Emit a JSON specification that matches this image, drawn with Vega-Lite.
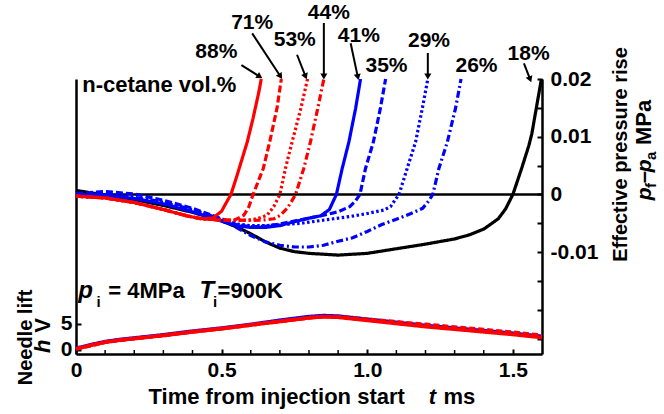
{
  "$schema": "https://vega.github.io/schema/vega-lite/v6.json",
  "width": 466,
  "height": 275,
  "autosize": {"type": "none"},
  "padding": {"left": 76, "top": 79, "right": 122, "bottom": 60},
  "config": {
    "view": {"stroke": null},
    "font": "Liberation Sans",
    "axis": {
      "labelFont": "Liberation Sans",
      "titleFont": "Liberation Sans",
      "labelFontWeight": "bold",
      "titleFontWeight": "bold",
      "labelColor": "black",
      "titleColor": "black",
      "domainColor": "black",
      "tickColor": "black",
      "domainWidth": 2.5,
      "tickWidth": 2,
      "grid": false,
      "labelFlush": false,
      "labelOverlap": false
    }
  },
  "datasets": {
    "pressure": [
      {"s": "18%", "t": 0, "P": 0.0007}, {"s": "18%", "t": 0.05, "P": 0.0003}, {"s": "18%", "t": 0.1, "P": -0.0001}, {"s": "18%", "t": 0.2, "P": -0.0009}, {"s": "18%", "t": 0.3, "P": -0.0019}, {"s": "18%", "t": 0.4, "P": -0.0031}, {"s": "18%", "t": 0.5, "P": -0.0046}, {"s": "18%", "t": 0.55, "P": -0.0056}, {"s": "18%", "t": 0.6, "P": -0.0068}, {"s": "18%", "t": 0.65, "P": -0.0082}, {"s": "18%", "t": 0.7, "P": -0.0093}, {"s": "18%", "t": 0.75, "P": -0.0099}, {"s": "18%", "t": 0.8, "P": -0.0102}, {"s": "18%", "t": 0.9, "P": -0.0105}, {"s": "18%", "t": 1.0, "P": -0.0102}, {"s": "18%", "t": 1.05, "P": -0.0098}, {"s": "18%", "t": 1.1, "P": -0.0094}, {"s": "18%", "t": 1.2, "P": -0.0086}, {"s": "18%", "t": 1.3, "P": -0.0077}, {"s": "18%", "t": 1.35, "P": -0.007}, {"s": "18%", "t": 1.4, "P": -0.006}, {"s": "18%", "t": 1.45, "P": -0.0042}, {"s": "18%", "t": 1.475, "P": -0.0025}, {"s": "18%", "t": 1.5, "P": 0.0}, {"s": "18%", "t": 1.53, "P": 0.0045}, {"s": "18%", "t": 1.555, "P": 0.0085}, {"s": "18%", "t": 1.565, "P": 0.0105}, {"s": "18%", "t": 1.598, "P": 0.02},
      {"s": "26%", "t": 0, "P": -0.0001}, {"s": "26%", "t": 0.1, "P": 0.0001}, {"s": "26%", "t": 0.2, "P": -0.0005}, {"s": "26%", "t": 0.3, "P": -0.0013}, {"s": "26%", "t": 0.4, "P": -0.0026}, {"s": "26%", "t": 0.5, "P": -0.0043}, {"s": "26%", "t": 0.55, "P": -0.0057}, {"s": "26%", "t": 0.6, "P": -0.0071}, {"s": "26%", "t": 0.65, "P": -0.0082}, {"s": "26%", "t": 0.7, "P": -0.0088}, {"s": "26%", "t": 0.75, "P": -0.0091}, {"s": "26%", "t": 0.8, "P": -0.0091}, {"s": "26%", "t": 0.85, "P": -0.0088}, {"s": "26%", "t": 0.9, "P": -0.0081}, {"s": "26%", "t": 0.95, "P": -0.0075}, {"s": "26%", "t": 1.0, "P": -0.0064}, {"s": "26%", "t": 1.05, "P": -0.0052}, {"s": "26%", "t": 1.1, "P": -0.0043}, {"s": "26%", "t": 1.15, "P": -0.0033}, {"s": "26%", "t": 1.19, "P": -0.0024}, {"s": "26%", "t": 1.21, "P": -0.0012}, {"s": "26%", "t": 1.225, "P": 0.0}, {"s": "26%", "t": 1.246, "P": 0.0045}, {"s": "26%", "t": 1.275, "P": 0.0091}, {"s": "26%", "t": 1.303, "P": 0.0149}, {"s": "26%", "t": 1.322, "P": 0.02},
      {"s": "29%", "t": 0, "P": -0.0002}, {"s": "29%", "t": 0.1, "P": 0.0}, {"s": "29%", "t": 0.2, "P": -0.0006}, {"s": "29%", "t": 0.3, "P": -0.0014}, {"s": "29%", "t": 0.4, "P": -0.0027}, {"s": "29%", "t": 0.5, "P": -0.0044}, {"s": "29%", "t": 0.55, "P": -0.0051}, {"s": "29%", "t": 0.6, "P": -0.0054}, {"s": "29%", "t": 0.65, "P": -0.0054}, {"s": "29%", "t": 0.713, "P": -0.0052}, {"s": "29%", "t": 0.771, "P": -0.005}, {"s": "29%", "t": 0.828, "P": -0.0046}, {"s": "29%", "t": 0.885, "P": -0.0042}, {"s": "29%", "t": 0.943, "P": -0.0038}, {"s": "29%", "t": 1.0, "P": -0.0033}, {"s": "29%", "t": 1.057, "P": -0.0027}, {"s": "29%", "t": 1.08, "P": -0.0021}, {"s": "29%", "t": 1.095, "P": -0.001}, {"s": "29%", "t": 1.109, "P": 0.0}, {"s": "29%", "t": 1.137, "P": 0.0045}, {"s": "29%", "t": 1.166, "P": 0.0091}, {"s": "29%", "t": 1.189, "P": 0.0149}, {"s": "29%", "t": 1.208, "P": 0.02},
      {"s": "35%", "t": 0, "P": 0.0002}, {"s": "35%", "t": 0.1, "P": 0.0005}, {"s": "35%", "t": 0.2, "P": 0.0001}, {"s": "35%", "t": 0.3, "P": -0.001}, {"s": "35%", "t": 0.4, "P": -0.0024}, {"s": "35%", "t": 0.5, "P": -0.0042}, {"s": "35%", "t": 0.55, "P": -0.0052}, {"s": "35%", "t": 0.6, "P": -0.0056}, {"s": "35%", "t": 0.65, "P": -0.0055}, {"s": "35%", "t": 0.7, "P": -0.0051}, {"s": "35%", "t": 0.75, "P": -0.0046}, {"s": "35%", "t": 0.8, "P": -0.0041}, {"s": "35%", "t": 0.85, "P": -0.0036}, {"s": "35%", "t": 0.9, "P": -0.003}, {"s": "35%", "t": 0.94, "P": -0.0021}, {"s": "35%", "t": 0.96, "P": -0.0011}, {"s": "35%", "t": 0.975, "P": 0.0}, {"s": "35%", "t": 0.994, "P": 0.0045}, {"s": "35%", "t": 1.021, "P": 0.0091}, {"s": "35%", "t": 1.045, "P": 0.0149}, {"s": "35%", "t": 1.063, "P": 0.02},
      {"s": "41%", "t": 0, "P": -0.0002}, {"s": "41%", "t": 0.1, "P": -0.0001}, {"s": "41%", "t": 0.2, "P": -0.0007}, {"s": "41%", "t": 0.3, "P": -0.0016}, {"s": "41%", "t": 0.4, "P": -0.003}, {"s": "41%", "t": 0.5, "P": -0.0046}, {"s": "41%", "t": 0.55, "P": -0.0054}, {"s": "41%", "t": 0.6, "P": -0.0057}, {"s": "41%", "t": 0.65, "P": -0.0057}, {"s": "41%", "t": 0.7, "P": -0.0054}, {"s": "41%", "t": 0.75, "P": -0.0047}, {"s": "41%", "t": 0.8, "P": -0.0041}, {"s": "41%", "t": 0.84, "P": -0.0037}, {"s": "41%", "t": 0.87, "P": -0.0026}, {"s": "41%", "t": 0.894, "P": 0.0}, {"s": "41%", "t": 0.914, "P": 0.0045}, {"s": "41%", "t": 0.937, "P": 0.0091}, {"s": "41%", "t": 0.96, "P": 0.0149}, {"s": "41%", "t": 0.977, "P": 0.02},
      {"s": "44%", "t": 0, "P": -0.0003}, {"s": "44%", "t": 0.1, "P": -0.0006}, {"s": "44%", "t": 0.2, "P": -0.0014}, {"s": "44%", "t": 0.3, "P": -0.0026}, {"s": "44%", "t": 0.38, "P": -0.0037}, {"s": "44%", "t": 0.43, "P": -0.0042}, {"s": "44%", "t": 0.5, "P": -0.0044}, {"s": "44%", "t": 0.6, "P": -0.0045}, {"s": "44%", "t": 0.65, "P": -0.0044}, {"s": "44%", "t": 0.68, "P": -0.0042}, {"s": "44%", "t": 0.702, "P": -0.0036}, {"s": "44%", "t": 0.725, "P": -0.0024}, {"s": "44%", "t": 0.74, "P": -0.0012}, {"s": "44%", "t": 0.754, "P": 0.0}, {"s": "44%", "t": 0.782, "P": 0.0045}, {"s": "44%", "t": 0.805, "P": 0.0091}, {"s": "44%", "t": 0.83, "P": 0.0149}, {"s": "44%", "t": 0.851, "P": 0.02},
      {"s": "53%", "t": 0, "P": -0.0003}, {"s": "53%", "t": 0.1, "P": -0.0006}, {"s": "53%", "t": 0.2, "P": -0.0014}, {"s": "53%", "t": 0.3, "P": -0.0026}, {"s": "53%", "t": 0.38, "P": -0.0037}, {"s": "53%", "t": 0.43, "P": -0.0042}, {"s": "53%", "t": 0.5, "P": -0.0044}, {"s": "53%", "t": 0.55, "P": -0.0045}, {"s": "53%", "t": 0.6, "P": -0.0044}, {"s": "53%", "t": 0.622, "P": -0.0042}, {"s": "53%", "t": 0.656, "P": -0.0036}, {"s": "53%", "t": 0.679, "P": -0.0021}, {"s": "53%", "t": 0.69, "P": -0.001}, {"s": "53%", "t": 0.7, "P": 0.0}, {"s": "53%", "t": 0.719, "P": 0.0045}, {"s": "53%", "t": 0.742, "P": 0.0091}, {"s": "53%", "t": 0.772, "P": 0.0149}, {"s": "53%", "t": 0.795, "P": 0.02},
      {"s": "71%", "t": 0, "P": -0.0003}, {"s": "71%", "t": 0.1, "P": -0.0006}, {"s": "71%", "t": 0.2, "P": -0.0014}, {"s": "71%", "t": 0.3, "P": -0.0026}, {"s": "71%", "t": 0.38, "P": -0.0037}, {"s": "71%", "t": 0.43, "P": -0.0042}, {"s": "71%", "t": 0.5, "P": -0.0045}, {"s": "71%", "t": 0.542, "P": -0.0045}, {"s": "71%", "t": 0.576, "P": -0.0036}, {"s": "71%", "t": 0.593, "P": -0.0022}, {"s": "71%", "t": 0.608, "P": 0.0}, {"s": "71%", "t": 0.643, "P": 0.0045}, {"s": "71%", "t": 0.665, "P": 0.0091}, {"s": "71%", "t": 0.69, "P": 0.0149}, {"s": "71%", "t": 0.705, "P": 0.02},
      {"s": "88%", "t": 0, "P": -0.0003}, {"s": "88%", "t": 0.1, "P": -0.0006}, {"s": "88%", "t": 0.2, "P": -0.0014}, {"s": "88%", "t": 0.3, "P": -0.0026}, {"s": "88%", "t": 0.38, "P": -0.0037}, {"s": "88%", "t": 0.43, "P": -0.0042}, {"s": "88%", "t": 0.47, "P": -0.0041}, {"s": "88%", "t": 0.5, "P": -0.0029}, {"s": "88%", "t": 0.515, "P": -0.0015}, {"s": "88%", "t": 0.532, "P": 0.0}, {"s": "88%", "t": 0.553, "P": 0.0033}, {"s": "88%", "t": 0.588, "P": 0.0091}, {"s": "88%", "t": 0.608, "P": 0.0132}, {"s": "88%", "t": 0.628, "P": 0.0178}, {"s": "88%", "t": 0.636, "P": 0.02}
    ],
    "lift": [
      {"s": "B", "t": 0, "h": 0.3}, {"s": "B", "t": 0.05, "h": 1.0}, {"s": "B", "t": 0.1, "h": 1.6}, {"s": "B", "t": 0.15, "h": 2.0}, {"s": "B", "t": 0.2, "h": 2.3}, {"s": "B", "t": 0.3, "h": 2.9}, {"s": "B", "t": 0.4, "h": 3.6}, {"s": "B", "t": 0.5, "h": 4.2}, {"s": "B", "t": 0.6, "h": 4.9}, {"s": "B", "t": 0.7, "h": 5.7}, {"s": "B", "t": 0.8, "h": 6.4}, {"s": "B", "t": 0.85, "h": 6.6}, {"s": "B", "t": 0.9, "h": 6.5}, {"s": "B", "t": 1.0, "h": 5.9}, {"s": "B", "t": 1.1, "h": 5.3}, {"s": "B", "t": 1.2, "h": 4.7}, {"s": "B", "t": 1.3, "h": 4.2}, {"s": "B", "t": 1.4, "h": 3.7}, {"s": "B", "t": 1.5, "h": 3.2}, {"s": "B", "t": 1.6, "h": 2.6},
      {"s": "R2", "t": 0, "h": 0.2}, {"s": "R2", "t": 0.1, "h": 1.5}, {"s": "R2", "t": 0.2, "h": 2.2}, {"s": "R2", "t": 0.3, "h": 2.8}, {"s": "R2", "t": 0.4, "h": 3.5}, {"s": "R2", "t": 0.5, "h": 4.1}, {"s": "R2", "t": 0.6, "h": 4.8}, {"s": "R2", "t": 0.7, "h": 5.5}, {"s": "R2", "t": 0.8, "h": 6.2}, {"s": "R2", "t": 0.85, "h": 6.4}, {"s": "R2", "t": 0.9, "h": 6.4}, {"s": "R2", "t": 1.0, "h": 5.9}, {"s": "R2", "t": 1.1, "h": 5.4}, {"s": "R2", "t": 1.2, "h": 4.9}, {"s": "R2", "t": 1.3, "h": 4.4}, {"s": "R2", "t": 1.4, "h": 3.9}, {"s": "R2", "t": 1.5, "h": 3.4}, {"s": "R2", "t": 1.6, "h": 2.8},
      {"s": "R1", "t": 0, "h": 0.2}, {"s": "R1", "t": 0.05, "h": 0.9}, {"s": "R1", "t": 0.1, "h": 1.5}, {"s": "R1", "t": 0.15, "h": 1.9}, {"s": "R1", "t": 0.2, "h": 2.2}, {"s": "R1", "t": 0.3, "h": 2.8}, {"s": "R1", "t": 0.4, "h": 3.5}, {"s": "R1", "t": 0.5, "h": 4.1}, {"s": "R1", "t": 0.6, "h": 4.8}, {"s": "R1", "t": 0.7, "h": 5.5}, {"s": "R1", "t": 0.8, "h": 6.2}, {"s": "R1", "t": 0.85, "h": 6.4}, {"s": "R1", "t": 0.9, "h": 6.3}, {"s": "R1", "t": 1.0, "h": 5.7}, {"s": "R1", "t": 1.1, "h": 5.1}, {"s": "R1", "t": 1.2, "h": 4.5}, {"s": "R1", "t": 1.3, "h": 4.0}, {"s": "R1", "t": 1.4, "h": 3.5}, {"s": "R1", "t": 1.5, "h": 3.0}, {"s": "R1", "t": 1.6, "h": 2.4}
    ],
    "minor": [
      {"t": 0.1}, {"t": 0.2}, {"t": 0.3}, {"t": 0.4}, {"t": 0.6}, {"t": 0.7}, {"t": 0.8}, {"t": 0.9}, {"t": 1.1}, {"t": 1.2}, {"t": 1.3}, {"t": 1.4}
    ],
    "labels": [
      {"label": "88%", "t": 0.482, "P": 0.0247},
      {"label": "71%", "t": 0.605, "P": 0.0297},
      {"label": "53%", "t": 0.751, "P": 0.0268},
      {"label": "44%", "t": 0.868, "P": 0.0315},
      {"label": "41%", "t": 0.971, "P": 0.0275},
      {"label": "35%", "t": 1.066, "P": 0.0222},
      {"label": "29%", "t": 1.212, "P": 0.0266},
      {"label": "26%", "t": 1.375, "P": 0.0222},
      {"label": "18%", "t": 1.554, "P": 0.0243}
    ],
    "arrows": [
      {"t1": 0.568, "P1": 0.0224, "t2": 0.628, "P2": 0.0205},
      {"t1": 0.605, "P1": 0.0279, "t2": 0.7, "P2": 0.0206},
      {"t1": 0.759, "P1": 0.0242, "t2": 0.787, "P2": 0.0206},
      {"t1": 0.851, "P1": 0.0297, "t2": 0.851, "P2": 0.0206},
      {"t1": 0.943, "P1": 0.0262, "t2": 0.967, "P2": 0.0205},
      {"t1": 1.208, "P1": 0.0245, "t2": 1.208, "P2": 0.0206},
      {"t1": 1.538, "P1": 0.0227, "t2": 1.558, "P2": 0.0201}
    ]
  },
  "layer": [
    {
      "data": {"name": "lift"},
      "mark": {"type": "line", "strokeWidth": 3.8, "strokeCap": "butt"},
      "encoding": {
        "x": {
          "field": "t", "type": "quantitative",
          "scale": {"domain": [0, 1.6], "nice": false, "zero": false},
          "axis": {
            "values": [0, 0.5, 1.0, 1.5],
            "labelExpr": "datum.value == 0 ? '0' : format(datum.value, '.1f')",
            "labelOverlap": false,
            "labelFlush": false,
            "tickSize": -5,
            "labelPadding": 10,
            "labelFontSize": 21,
            "title": null
          }
        },
        "y": {
          "field": "h", "type": "quantitative",
          "scale": {"domain": [-0.77, 52.1], "nice": false, "zero": false},
          "axis": {
            "orient": "left",
            "values": [0, 5],
            "labelOverlap": false,
            "tickSize": -5,
            "labelPadding": 9,
            "labelFontSize": 21,
            "title": "Needle lift",
            "titleFontSize": 20,
            "titleAngle": 270,
            "titleX": -51,
            "titleY": 258,
            "titleBaseline": "middle",
            "titleAlign": "center"
          }
        },
        "color": {"field": "s", "type": "nominal", "scale": {"domain": ["B", "R2", "R1"], "range": ["#0000ff", "#ff0000", "#ff0000"]}, "legend": null},
        "strokeDash": {"field": "s", "type": "nominal", "scale": {"domain": ["B", "R2", "R1"], "range": [[1, 0], [6, 3], [1, 0]]}, "legend": null}
      }
    },
    {
      "data": {"name": "minor"},
      "mark": {"type": "rule", "color": "black", "strokeWidth": 1.5},
      "encoding": {
        "x": {"field": "t", "type": "quantitative", "scale": {"domain": [0, 1.6], "nice": false, "zero": false}},
        "y": {"datum": -0.77, "type": "quantitative", "scale": {"domain": [-0.77, 52.1], "nice": false, "zero": false}, "axis": null},
        "y2": {"datum": 0}
      }
    },
    {
      "data": {"values": [{"text": "Time from injection start", "t": 0.249, "h": -10.4}, {"text": "ms", "t": 1.262, "h": -10.4}, {"text": "V", "t": -0.0883, "h": 3.3, "rot": 270}]},
      "mark": {"type": "text", "font": "Liberation Sans", "fontWeight": "bold", "fontSize": 22, "color": "black", "align": "left", "baseline": "alphabetic"},
      "encoding": {
        "x": {"field": "t", "type": "quantitative", "scale": {"domain": [0, 1.6], "nice": false, "zero": false}},
        "y": {"field": "h", "type": "quantitative", "scale": {"domain": [-0.77, 52.1], "nice": false, "zero": false}, "axis": null},
        "text": {"field": "text"},
        "angle": {"field": "rot", "type": "quantitative", "scale": null}
      }
    },
    {
      "data": {"values": [{"text": "t", "t": 1.211, "h": -10.4}, {"text": "h", "t": -0.0883, "h": -0.58, "rot": 270}]},
      "mark": {"type": "text", "font": "Liberation Sans", "fontWeight": "bold", "fontStyle": "italic", "fontSize": 22, "color": "black", "align": "left", "baseline": "alphabetic"},
      "encoding": {
        "x": {"field": "t", "type": "quantitative", "scale": {"domain": [0, 1.6], "nice": false, "zero": false}},
        "y": {"field": "h", "type": "quantitative", "scale": {"domain": [-0.77, 52.1], "nice": false, "zero": false}, "axis": null},
        "text": {"field": "text"},
        "angle": {"field": "rot", "type": "quantitative", "scale": null}
      }
    },
    {
      "data": {"values": [{"P": 0}]},
      "mark": {"type": "rule", "color": "black", "strokeWidth": 2.5},
      "encoding": {
        "y": {"field": "P", "type": "quantitative", "scale": {"domain": [-0.02763, 0.02], "nice": false, "zero": false}, "axis": null}
      }
    },
    {
      "data": {"name": "pressure"},
      "mark": {"type": "line", "strokeWidth": 3.2, "strokeCap": "butt"},
      "encoding": {
        "x": {"field": "t", "type": "quantitative", "scale": {"domain": [0, 1.6], "nice": false, "zero": false}},
        "y": {
          "field": "P", "type": "quantitative",
          "scale": {"domain": [-0.02763, 0.02], "nice": false, "zero": false},
          "axis": {
            "orient": "right",
            "values": [0.02, 0.015, 0.01, 0.005, 0, -0.005, -0.01, -0.015, -0.02, -0.025],
            "labelExpr": "(abs(datum.value*100 - round(datum.value*100)) < 0.001 && datum.value > -0.015) ? (datum.value == 0 ? '0' : (datum.value < 0 ? '-' + format(-datum.value, '.2f') : format(datum.value, '.2f'))) : ''",
            "labelOverlap": false,
            "tickSize": -5,
            "labelPadding": 13,
            "labelFontSize": 21,
            "title": "Effective pressure rise",
            "titleFontSize": 20,
            "titleAngle": 270,
            "titleX": 78,
            "titleY": 75,
            "titleBaseline": "middle",
            "titleAlign": "center"
          }
        },
        "color": {"field": "s", "type": "nominal", "scale": {"domain": ["18%", "26%", "29%", "35%", "41%", "44%", "53%", "71%", "88%"], "range": ["#000000", "#0000ff", "#0000ff", "#0000ff", "#0000ff", "#ff0000", "#ff0000", "#ff0000", "#ff0000"]}, "legend": null},
        "strokeDash": {"field": "s", "type": "nominal", "scale": {"domain": ["18%", "26%", "29%", "35%", "41%", "44%", "53%", "71%", "88%"], "range": [[1, 0], [7, 3, 2, 3], [2.5, 2.5], [7, 3], [1, 0], [7, 3, 2, 3], [2.5, 2.5], [7, 3], [1, 0]]}, "legend": null}
      }
    },
    {
      "data": {"name": "labels"},
      "mark": {"type": "text", "font": "Liberation Sans", "fontWeight": "bold", "fontSize": 21, "color": "black", "align": "center", "baseline": "middle"},
      "encoding": {
        "x": {"field": "t", "type": "quantitative", "scale": {"domain": [0, 1.6], "nice": false, "zero": false}},
        "y": {"field": "P", "type": "quantitative", "scale": {"domain": [-0.02763, 0.02], "nice": false, "zero": false}, "axis": null},
        "text": {"field": "label"}
      }
    },
    {
      "data": {"name": "arrows"},
      "mark": {"type": "rule", "color": "black", "strokeWidth": 2},
      "encoding": {
        "x": {"field": "t1", "type": "quantitative", "scale": {"domain": [0, 1.6], "nice": false, "zero": false}},
        "y": {"field": "P1", "type": "quantitative", "scale": {"domain": [-0.02763, 0.02], "nice": false, "zero": false}, "axis": null},
        "x2": {"field": "t2"},
        "y2": {"field": "P2"}
      }
    },
    {
      "data": {"name": "arrows"},
      "transform": [{"calculate": "atan2((datum.t2 - datum.t1) * 291, (datum.P2 - datum.P1) * 5767) * 180 / PI", "as": "ang"}],
      "mark": {"type": "point", "shape": "triangle", "filled": true, "color": "black", "opacity": 1, "size": 50},
      "encoding": {
        "x": {"field": "t2", "type": "quantitative", "scale": {"domain": [0, 1.6], "nice": false, "zero": false}},
        "y": {"field": "P2", "type": "quantitative", "scale": {"domain": [-0.02763, 0.02], "nice": false, "zero": false}, "axis": null},
        "angle": {"field": "ang", "type": "quantitative", "scale": null}
      }
    },
    {
      "data": {"values": [{"text": "n-cetane vol.%", "t": 0.0216, "P": 0.0177}, {"text": "= 4MPa", "t": 0.111, "P": -0.018}, {"text": "=900K", "t": 0.486, "P": -0.018}, {"text": "–", "t": 1.9735, "P": 0.00196, "rot": 270}, {"text": "MPa", "t": 1.9735, "P": 0.00855, "rot": 270}]},
      "mark": {"type": "text", "font": "Liberation Sans", "fontWeight": "bold", "fontSize": 22, "color": "black", "align": "left", "baseline": "alphabetic"},
      "encoding": {
        "x": {"field": "t", "type": "quantitative", "scale": {"domain": [0, 1.6], "nice": false, "zero": false}},
        "y": {"field": "P", "type": "quantitative", "scale": {"domain": [-0.02763, 0.02], "nice": false, "zero": false}, "axis": null},
        "text": {"field": "text"},
        "angle": {"field": "rot", "type": "quantitative", "scale": null}
      }
    },
    {
      "data": {"values": [{"text": "p", "t": 0.008, "P": -0.018}, {"text": "T", "t": 0.424, "P": -0.018}]},
      "mark": {"type": "text", "font": "Liberation Sans", "fontWeight": "bold", "fontStyle": "italic", "fontSize": 24, "color": "black", "align": "left", "baseline": "alphabetic"},
      "encoding": {
        "x": {"field": "t", "type": "quantitative", "scale": {"domain": [0, 1.6], "nice": false, "zero": false}},
        "y": {"field": "P", "type": "quantitative", "scale": {"domain": [-0.02763, 0.02], "nice": false, "zero": false}, "axis": null},
        "text": {"field": "text"}
      }
    },
    {
      "data": {"values": [{"text": "p", "t": 1.9735, "P": -0.00099, "rot": 270}, {"text": "p", "t": 1.9735, "P": 0.00387, "rot": 270}]},
      "mark": {"type": "text", "font": "Liberation Sans", "fontWeight": "bold", "fontStyle": "italic", "fontSize": 21, "color": "black", "align": "left", "baseline": "alphabetic"},
      "encoding": {
        "x": {"field": "t", "type": "quantitative", "scale": {"domain": [0, 1.6], "nice": false, "zero": false}},
        "y": {"field": "P", "type": "quantitative", "scale": {"domain": [-0.02763, 0.02], "nice": false, "zero": false}, "axis": null},
        "text": {"field": "text"},
        "angle": {"field": "rot", "type": "quantitative", "scale": null}
      }
    },
    {
      "data": {"values": [{"text": "i", "t": 0.07, "P": -0.0195}, {"text": "i", "t": 0.47, "P": -0.0195}, {"text": "f", "t": 1.991, "P": 0.00113, "rot": 270}, {"text": "a", "t": 1.991, "P": 0.00598, "rot": 270}]},
      "mark": {"type": "text", "font": "Liberation Sans", "fontWeight": "bold", "fontSize": 15, "color": "black", "align": "left", "baseline": "alphabetic"},
      "encoding": {
        "x": {"field": "t", "type": "quantitative", "scale": {"domain": [0, 1.6], "nice": false, "zero": false}},
        "y": {"field": "P", "type": "quantitative", "scale": {"domain": [-0.02763, 0.02], "nice": false, "zero": false}, "axis": null},
        "text": {"field": "text"},
        "angle": {"field": "rot", "type": "quantitative", "scale": null}
      }
    }
  ],
  "resolve": {"scale": {"y": "independent", "color": "independent", "strokeDash": "independent"}, "axis": {"y": "independent"}}
}
